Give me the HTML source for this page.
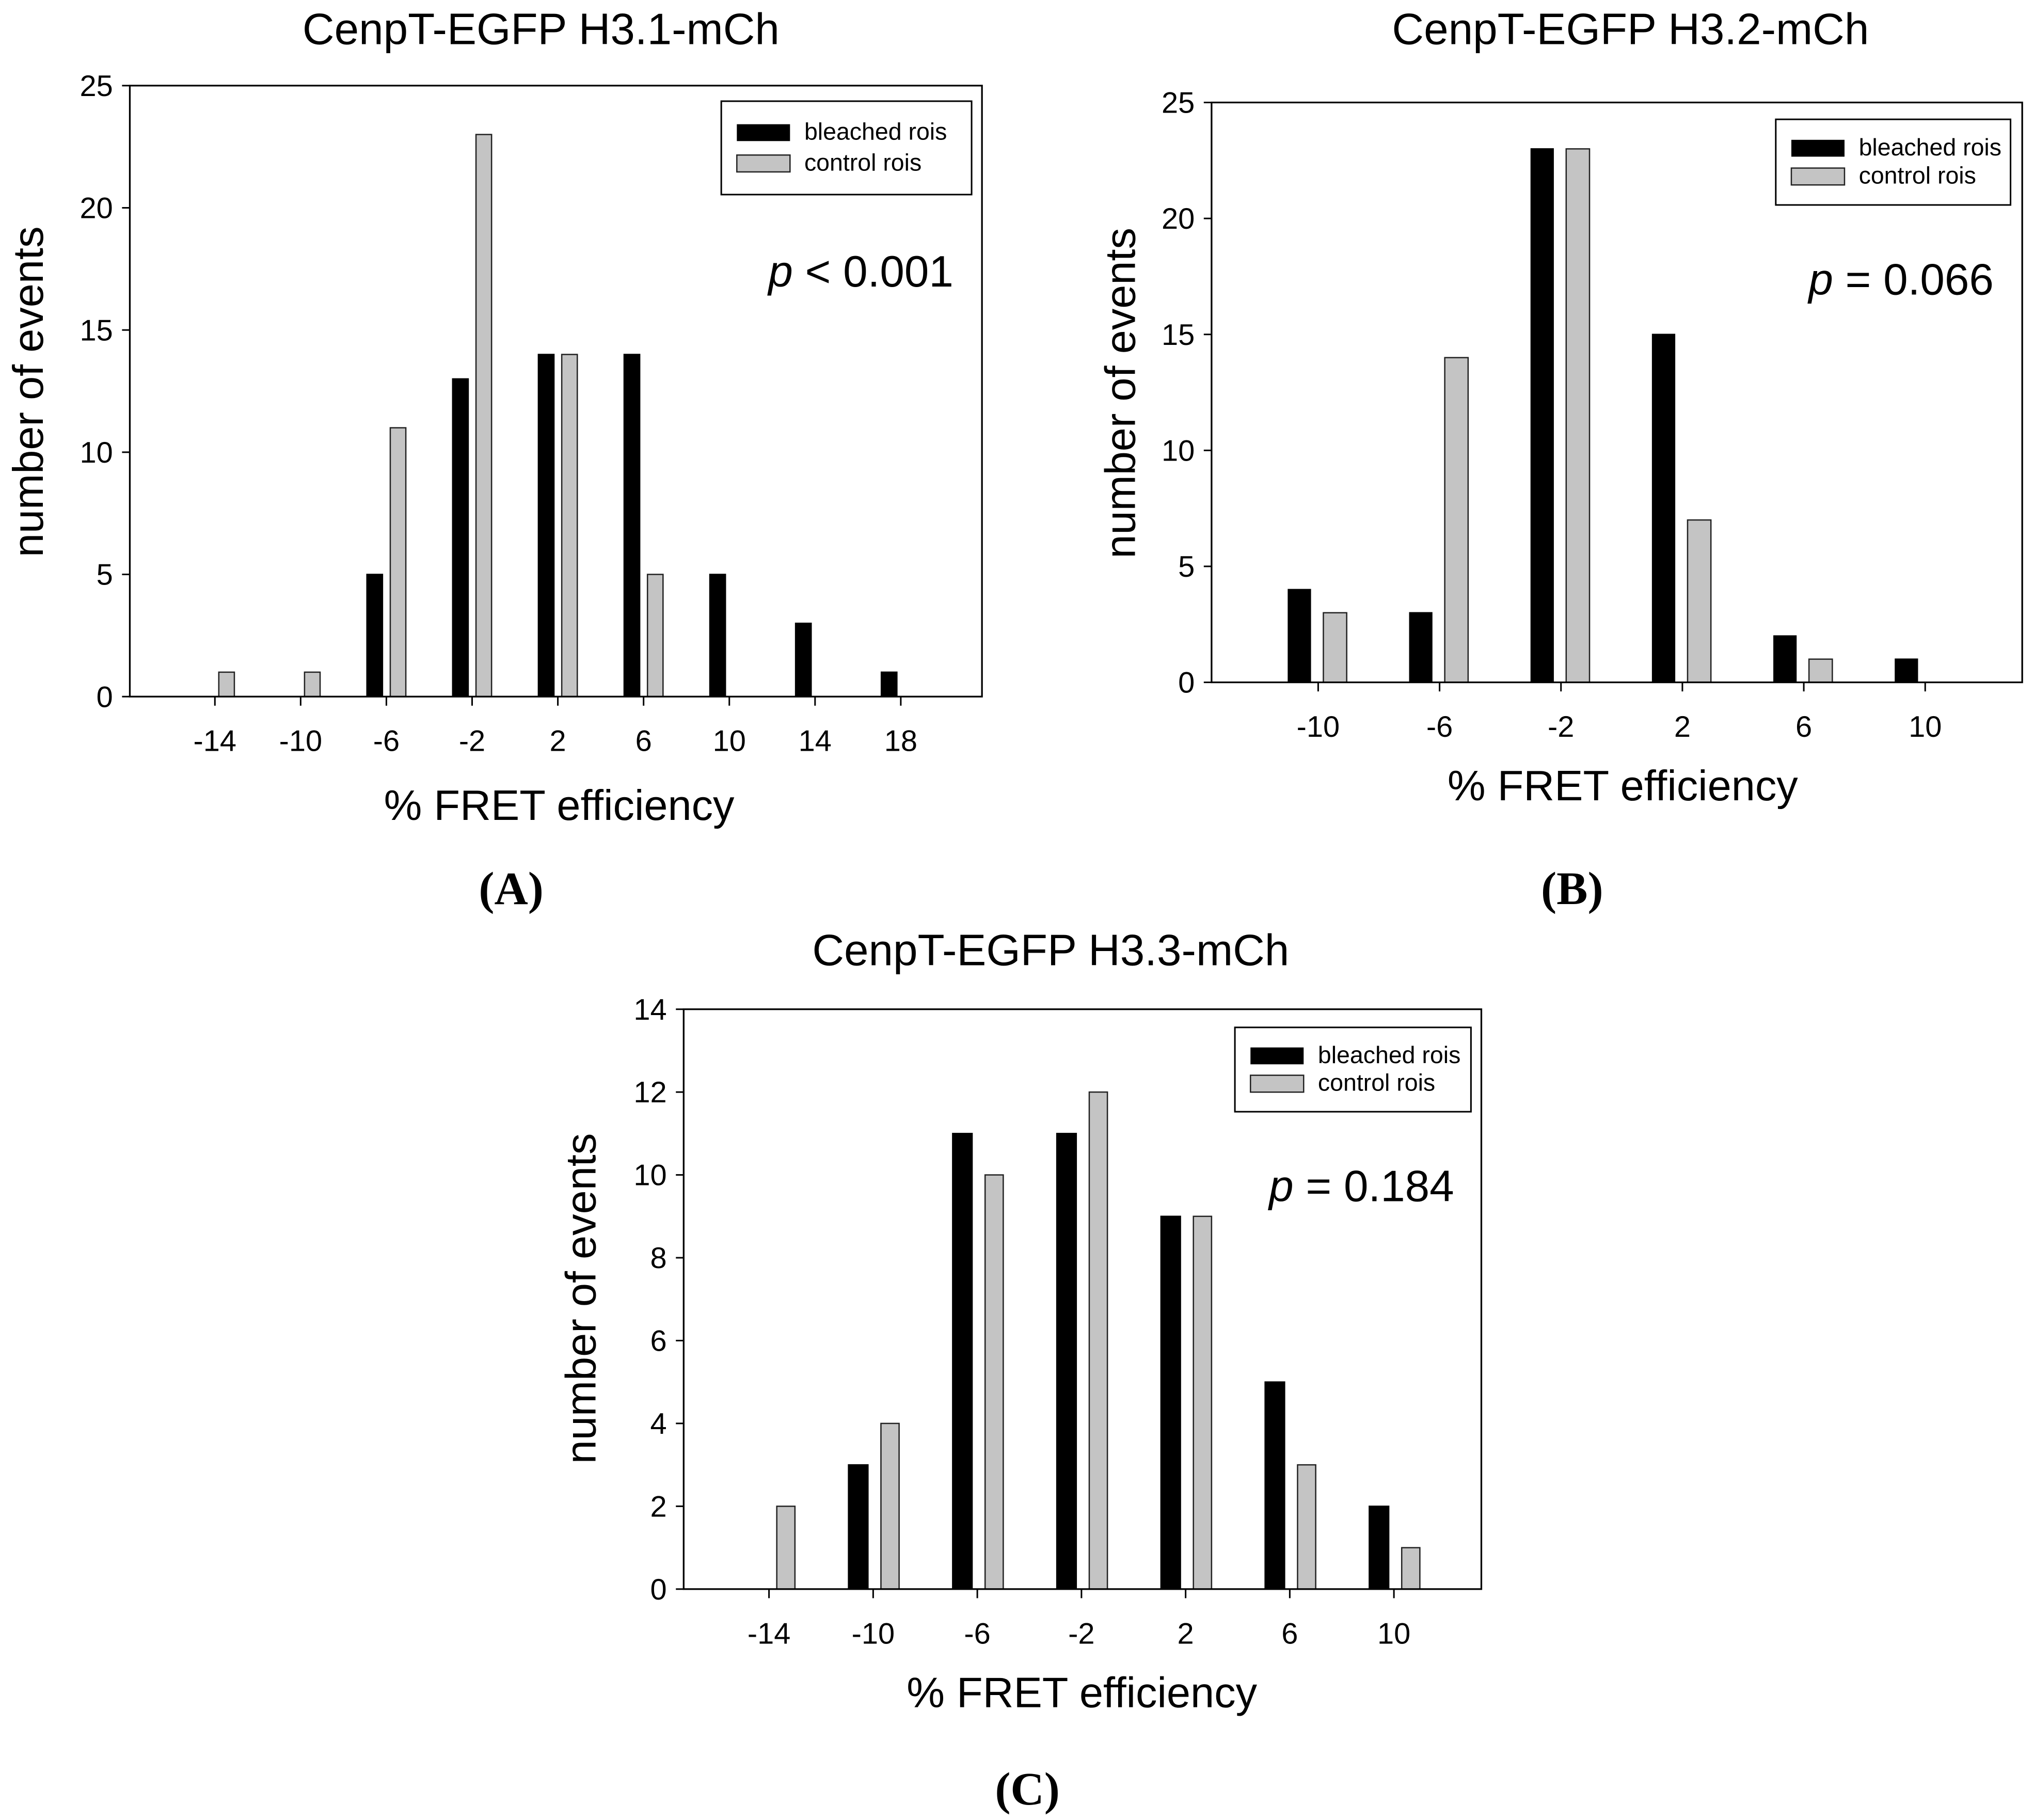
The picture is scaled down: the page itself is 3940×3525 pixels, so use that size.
<!DOCTYPE html>
<html><head><meta charset="utf-8"><style>
html,body{margin:0;padding:0;background:#fff}
svg{display:block}
text{font-family:"Liberation Sans",Arial,sans-serif;fill:#000}
</style></head><body>
<svg id="fig" width="3940" height="3525" viewBox="0 0 1568 1403" xmlns="http://www.w3.org/2000/svg"></svg>
<script>
// Panel A data
const catsA = [-14,-10,-6,-2,2,6,10,14,18];
const bleachedA = [0,0,5,13,14,14,5,3,1];
const controlA = [1,1,11,23,14,5,0,0,0];
const yTicksA = [0,5,10,15,20,25];
// Panel B data
const catsB = [-10,-6,-2,2,6,10];
const bleachedB = [4,3,23,15,2,1];
const controlB = [3,14,23,7,1,0];
const yTicksB = [0,5,10,15,20,25];
// Panel C data
const catsC = [-14,-10,-6,-2,2,6,10];
const bleachedC = [0,3,11,11,9,5,2];
const controlC = [2,4,10,12,9,3,1];
const yTicksC = [0,2,4,6,8,10,12,14];

const NS='http://www.w3.org/2000/svg';
const svg=document.getElementById('fig');
function el(tag,attrs,parent,txt){const e=document.createElementNS(NS,tag);for(const k in attrs)e.setAttribute(k,attrs[k]);if(txt!==undefined)e.textContent=txt;(parent||svg).appendChild(e);return e;}

function panel(cfg){
  const g=el('g',{},svg);
  
  
  const xs=v=>cfg.x0+(v-cfg.c0)*cfg.dx/4;
  const ys=v=>cfg.bottom-(v/cfg.ymax)*(cfg.bottom-cfg.top);
  cfg.cats.forEach((c,i)=>{
    const t=xs(c);
    if(cfg.b[i]>0){const r=el('rect',{x:t+cfg.bo[0],y:ys(cfg.b[i]),width:cfg.bo[1]-cfg.bo[0],height:cfg.bottom-ys(cfg.b[i]),fill:'#000',stroke:'#000','stroke-width':1},g);
      
      }
    if(cfg.c[i]>0){const r=el('rect',{x:t+cfg.co[0],y:ys(cfg.c[i]),width:cfg.co[1]-cfg.co[0],height:cfg.bottom-ys(cfg.c[i]),fill:'#c4c4c4',stroke:'#222','stroke-width':1},g);
      
      }
  });
  const f=el('rect',{x:cfg.left,y:cfg.top,width:cfg.right-cfg.left,height:cfg.bottom-cfg.top,fill:'none',stroke:'#000','stroke-width':1.3},g);
  
  
  cfg.yt.forEach(v=>{
    el('line',{x1:cfg.left-6,x2:cfg.left,y1:ys(v),y2:ys(v),stroke:'#000','stroke-width':1.2},g);
    const t=el('text',{x:cfg.left-13,y:ys(v)+8,'text-anchor':'end','font-size':23},g,String(v));
    
    
  });
  cfg.cats.forEach(c=>{
    el('line',{x1:xs(c),x2:xs(c),y1:cfg.bottom,y2:cfg.bottom+7,stroke:'#000','stroke-width':1.2},g);
    const t=el('text',{x:xs(c),y:cfg.bottom+42,'text-anchor':'middle','font-size':23},g,String(c));
    
    
  });
  let t=el('text',{x:cfg.tx,y:cfg.ty,'text-anchor':'middle','font-size':34},g,cfg.title);
  
  
  t=el('text',{x:cfg.xlx,y:cfg.xly,'text-anchor':'middle','font-size':33},g,'% FRET efficiency');
  
  
  t=el('text',{x:0,y:0,'text-anchor':'middle','font-size':33,transform:`translate(${cfg.ylx},${cfg.yly}) rotate(-90)`},g,'number of events');
  
  
  t=el('text',{x:cfg.px,y:cfg.py,'text-anchor':'end','font-size':34},g);
  el('tspan',{'font-style':'italic'},t,'p');
  el('tspan',{},t,cfg.ptxt);
  
  
  t=el('text',{x:cfg.lx,y:cfg.ly,'text-anchor':'middle','font-size':36,'font-weight':'bold',style:'font-family:"Liberation Serif",serif'},g,cfg.label);
  
  
  const L=cfg.leg;
  const lg=el('g',{},g);
  
  
  el('rect',{x:L[0],y:L[1],width:L[2]-L[0],height:L[3]-L[1],fill:'#fff',stroke:'#000','stroke-width':1.2},lg);
  const h=L[3]-L[1], r1=L[1]+h*0.33, r2=L[1]+h*0.66;
  el('rect',{x:L[0]+12,y:r1-6,width:41,height:13,fill:'#000'},lg);
  el('rect',{x:L[0]+12,y:r2-6,width:41,height:13,fill:'#c4c4c4',stroke:'#222','stroke-width':1},lg);
  t=el('text',{x:L[0]+64,y:r1+6,'font-size':18.5},lg,'bleached rois');
  
  
  t=el('text',{x:L[0]+64,y:r2+6,'font-size':18.5},lg,'control rois');
  
  
}

panel({name:'panel-a',cats:catsA,b:bleachedA,c:controlA,yt:yTicksA,ymax:25,
  left:100,right:757,top:66,bottom:537,x0:430,c0:2,dx:66.1,bo:[-15,-3],co:[3,15],
  title:'CenpT-EGFP H3.1-mCh',tx:417,ty:34,xlx:431,xly:632,ylx:33,yly:302,
  px:735,py:221,ptxt:' < 0.001',lx:394,ly:697,label:'(A)',leg:[556,78,749,150]});
panel({name:'panel-b',cats:catsB,b:bleachedB,c:controlB,yt:yTicksB,ymax:25,
  left:934,right:1559,top:79,bottom:526,x0:1297,c0:2,dx:93.6,bo:[-23,-6],co:[4,22],
  title:'CenpT-EGFP H3.2-mCh',tx:1257,ty:34,xlx:1251,xly:617,ylx:875,yly:303,
  px:1537,py:227,ptxt:' = 0.066',lx:1212,ly:697,label:'(B)',leg:[1369,92,1550,158]});
panel({name:'panel-c',cats:catsC,b:bleachedC,c:controlC,yt:yTicksC,ymax:14,
  left:527,right:1142,top:778,bottom:1225,x0:914,c0:2,dx:80.3,bo:[-19,-4],co:[6,20],
  title:'CenpT-EGFP  H3.3-mCh',tx:810,ty:744,xlx:834,xly:1316,ylx:459,yly:1001,
  px:1121,py:926,ptxt:' = 0.184',lx:792,ly:1391,label:'(C)',leg:[952,792,1134,857]});
</script>
</body></html>
